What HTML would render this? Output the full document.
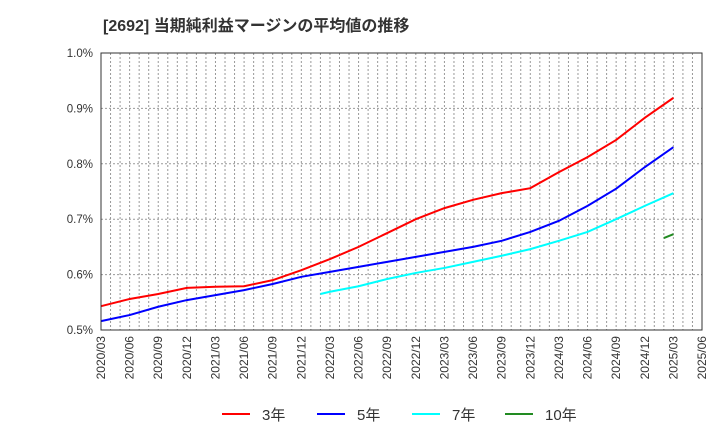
<!DOCTYPE html>
<html><head><meta charset="utf-8"><style>
body{margin:0;background:#fff;}
svg text{font-family:"Liberation Sans","Noto Sans CJK JP",sans-serif;}
</style></head><body>
<svg id="chart" width="720" height="440" xmlns="http://www.w3.org/2000/svg">
<text x="103" y="31" font-size="16" font-weight="bold" fill="#333">[2692]  当期純利益マージンの平均値の推移</text>
<g id="grid"></g><g id="series"></g><g id="axes"></g>
<g id="legend"></g>
</svg>
<script>
const xLabels=["2020/03","2020/06","2020/09","2020/12","2021/03","2021/06","2021/09","2021/12","2022/03","2022/06","2022/09","2022/12","2023/03","2023/06","2023/09","2023/12","2024/03","2024/06","2024/09","2024/12","2025/03","2025/06"];
const yTicks=[0.5,0.6,0.7,0.8,0.9,1.0];
const qMonths=[0,3,6,9,12,15,18,21,24,27,30,33,36,39,42,45,48,51,54,57,60];
const red=[0.543,0.556,0.565,0.576,0.578,0.579,0.590,0.608,0.628,0.650,0.675,0.700,0.720,0.735,0.747,0.756,0.785,0.812,0.843,0.883,0.919];
const blue=[0.516,0.527,0.542,0.554,0.563,0.572,0.583,0.596,0.605,0.614,0.623,0.632,0.641,0.650,0.661,0.677,0.697,0.724,0.755,0.794,0.830];
const cyanMonths=[23,24,27,30,33,36,39,42,45,48,51,54,57,60];
const cyan=[0.565,0.569,0.579,0.592,0.603,0.612,0.623,0.634,0.646,0.661,0.677,0.700,0.724,0.747];
const greenMonths=[59,60];
const green=[0.666,0.673];
const L=101,R=702,T=53,B=330,NM=63;
const X=m=>L+(R-L)*m/NM;
const Y=v=>B-(v-0.5)/0.5*(B-T);
const NS="http://www.w3.org/2000/svg";
function mk(t,a,p){const e=document.createElementNS(NS,t);for(const k in a)e.setAttribute(k,a[k]);p.appendChild(e);return e;}
const grid=document.getElementById('grid'),axes=document.getElementById('axes'),ser=document.getElementById('series'),leg=document.getElementById('legend');
for(let m=1;m<NM;m++){const l=mk('line',{x1:X(m),x2:X(m),y1:T,y2:B,stroke:'#999','stroke-dasharray':'2,2','stroke-width':1},grid);

}
yTicks.forEach(v=>{if(v>0.5&&v<1){const l=mk('line',{x1:L,x2:R,y1:Y(v),y2:Y(v),stroke:'#999','stroke-dasharray':'2,2'},grid);

}
const t=mk('text',{x:L-8,y:Y(v)+4,'text-anchor':'end','font-size':11.5,fill:'#333'},axes);t.textContent=v.toFixed(1)+'%';

});
const fr=mk('rect',{x:L,y:T,width:R-L,height:B-T,fill:'none',stroke:'#333','stroke-width':1},axes);


xLabels.forEach((s,i)=>{const x=X(i*3);const t=mk('text',{transform:`translate(${x+4},${B+6}) rotate(-90)`,'text-anchor':'end','font-size':12,fill:'#333'},axes);t.textContent=s;

});
function line(ms,vs,c,n){const p=mk('polyline',{points:ms.map((m,i)=>X(m)+','+Y(vs[i])).join(' '),fill:'none',stroke:c,'stroke-width':2},ser);

}
line(qMonths,red,'#f00','series-3y');
line(qMonths,blue,'#00f','series-5y');
line(cyanMonths,cyan,'#0ff','series-7y');
line(greenMonths,green,'#228b22','series-10y');
[['3年','#f00',222],['5年','#00f',317],['7年','#0ff',412],['10年','#228b22',505]].forEach(([s,c,x])=>{
const l=mk('line',{x1:x,x2:x+28,y1:414,y2:414,stroke:c,'stroke-width':2},leg);


const t=mk('text',{x:x+40,y:420,'font-size':15,fill:'#333'},leg);t.textContent=s;

});
</script>
</body></html>
